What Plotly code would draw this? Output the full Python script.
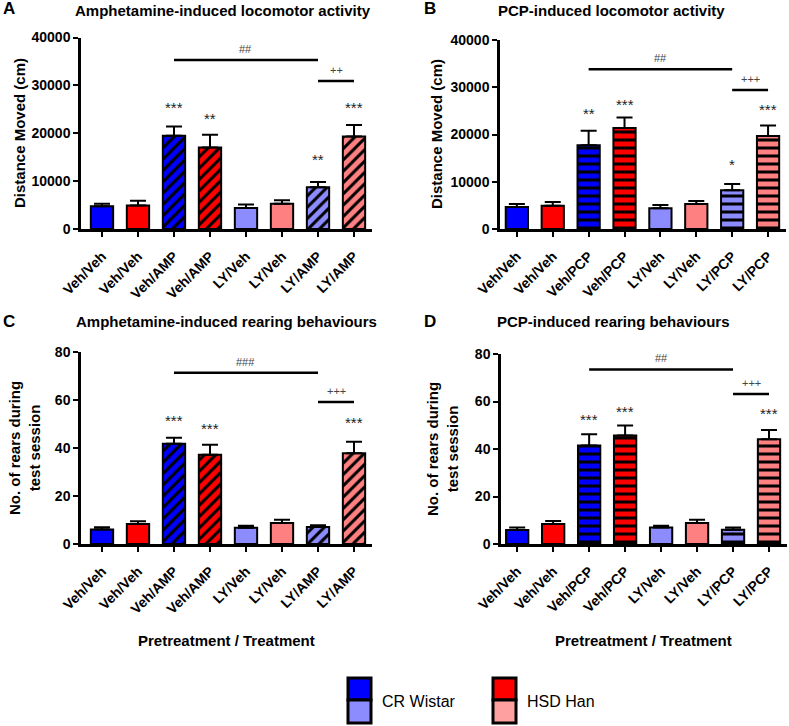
import plotly.graph_objects as go

W, H = 789, 726

labels_amp = ["Veh/Veh", "Veh/Veh", "Veh/AMP", "Veh/AMP", "LY/Veh", "LY/Veh", "LY/AMP", "LY/AMP"]
labels_pcp = ["Veh/Veh", "Veh/Veh", "Veh/PCP", "Veh/PCP", "LY/Veh", "LY/Veh", "LY/PCP", "LY/PCP"]

bar_colors = ["#0000FF", "#FF0000", "#0000FF", "#FF0000", "#8C8CFF", "#FF8080", "#8C8CFF", "#FF8080"]
drug_given = [False, False, True, True, False, False, True, True]

# A: amphetamine locomotor (cm)
loco_amp = [4750, 4900, 19500, 17000, 4400, 5300, 8700, 19300]
loco_amp_sem = [550, 1000, 1900, 2700, 700, 700, 1100, 2400]
# B: PCP locomotor (cm)
loco_pcp = [4650, 4900, 17700, 21400, 4400, 5300, 8200, 19700]
loco_pcp_sem = [650, 800, 3100, 2200, 700, 600, 1300, 2200]
# C: amphetamine rearing
rear_amp = [6.0, 8.3, 41.8, 37.2, 6.8, 8.7, 7.1, 37.8]
rear_amp_sem = [1.0, 1.2, 2.5, 4.2, 0.8, 1.4, 0.7, 4.8]
# D: PCP rearing
rear_pcp = [5.9, 8.4, 41.5, 45.7, 6.9, 8.8, 6.0, 44.1]
rear_pcp_sem = [1.1, 1.3, 4.7, 4.2, 0.8, 1.4, 1.0, 3.9]

# significance stars: (bar index, text, y)
stars_a = [(2, "***", 25300), (3, "**", 23000), (6, "**", 14500), (7, "***", 25300)]
stars_b = [(2, "**", 24400), (3, "***", 26300), (6, "*", 13600), (7, "***", 25200)]
stars_c = [(2, "***", 51.3), (3, "***", 48.0), (7, "***", 50.6)]
stars_d = [(2, "***", 52.5), (3, "***", 55.7), (7, "***", 54.8)]

# comparison brackets: (from bar, to bar, y, text)
brackets_a = [(2, 6, 35300, "##"), (6, 7, 30900, "++")]
brackets_b = [(2, 6, 33800, "##"), (6, 7, 29400, "+++")]
brackets_c = [(2, 6, 71.4, "###"), (6, 7, 59.2, "+++")]
brackets_d = [(2, 6, 73.5, "##"), (6, 7, 63.2, "+++")]


def px(x):
    return x / W


def py(y):
    return 1 - y / H


FONT = "Arial, Liberation Sans, sans-serif"

panels = [
    dict(vals=loco_amp, sem=loco_amp_sem, labels=labels_amp, hatch="/", stars=stars_a, brackets=brackets_a,
         xdom=(81, 372), ydom=(37.5, 229), xr=(-0.583, 7.5), yr=(0, 40000), dtick=10000),
    dict(vals=loco_pcp, sem=loco_pcp_sem, labels=labels_pcp, hatch="-", stars=stars_b, brackets=brackets_b,
         xdom=(500, 786), ydom=(40, 229), xr=(-0.47, 7.5), yr=(0, 40000), dtick=10000),
    dict(vals=rear_amp, sem=rear_amp_sem, labels=labels_amp, hatch="/", stars=stars_c, brackets=brackets_c,
         xdom=(81, 372), ydom=(352, 544), xr=(-0.583, 7.5), yr=(0, 80), dtick=20),
    dict(vals=rear_pcp, sem=rear_pcp_sem, labels=labels_pcp, hatch="-", stars=stars_d, brackets=brackets_d,
         xdom=(501, 787), ydom=(354, 544), xr=(-0.45, 7.5), yr=(0, 80), dtick=20),
]

fig = go.Figure()
annotations = []
shapes = []


def label(x, y, text, size, bold=True, color="black", angle=0, xanchor="center"):
    annotations.append(dict(x=px(x), y=py(y), xref="paper", yref="paper", text=text, showarrow=False,
                            xanchor=xanchor, yanchor="middle", textangle=angle,
                            font=dict(family=FONT, size=size, color=color,
                                      weight="bold" if bold else "normal")))


for i, p in enumerate(panels, start=1):
    xa = "x" if i == 1 else f"x{i}"
    ya = "y" if i == 1 else f"y{i}"
    xs = list(range(len(p["vals"])))
    # one trace per bar: per-point marker colours would override the black hatch colour
    for j in xs:
        fig.add_trace(go.Bar(
            x=[j], y=[p["vals"][j]], xaxis=xa, yaxis=ya, width=0.62,
            marker=dict(
                color=bar_colors[j],
                line=dict(color="black", width=2),
                pattern=dict(shape=p["hatch"] if drug_given[j] else "",
                             fillmode="replace", fgcolor="black", fgopacity=1, bgcolor=bar_colors[j],
                             size=8, solidity=0.38),
            ),
            error_y=dict(type="data", array=[p["sem"][j]], arrayminus=[0], symmetric=False,
                         color="black", thickness=2, width=8),
            showlegend=False, hoverinfo="skip",
        ))
    axis_common = dict(showline=True, linecolor="black", linewidth=2.5, ticks="outside", ticklen=5,
                       tickwidth=2, tickcolor="black", showgrid=False, zeroline=False, automargin=False,
                       tickfont=dict(family=FONT, size=14, color="black", weight="bold"))
    fig.update_layout({
        f"xaxis{'' if i == 1 else i}": dict(
            domain=[px(p["xdom"][0]), px(p["xdom"][1])], range=list(p["xr"]), anchor=ya,
            tickvals=xs, ticktext=p["labels"], tickangle=-45, ticklabelstandoff=6, **axis_common),
        f"yaxis{'' if i == 1 else i}": dict(
            domain=[py(p["ydom"][1]), py(p["ydom"][0])], range=list(p["yr"]), anchor=xa,
            dtick=p["dtick"], tickformat="d", **axis_common),
    })
    for idx, txt, yv in p["stars"]:
        annotations.append(dict(x=idx, y=yv, xref=xa, yref=ya, text=txt, showarrow=False,
                                xanchor="center", yanchor="middle",
                                font=dict(family=FONT, size=15, color="#222")))
    for x0, x1, yv, txt in p["brackets"]:
        shapes.append(dict(type="line", xref=xa, yref=ya, x0=x0, x1=x1, y0=yv, y1=yv,
                           line=dict(color="black", width=2.5)))
        annotations.append(dict(x=(x0 + x1) / 2, y=yv, xref=xa, yref=ya, text=txt, showarrow=False,
                                xanchor="center", yanchor="bottom", yshift=3,
                                font=dict(family=FONT, size=11, color="#444")))

# panel letters and titles
for letter, lx, ly in [("A", 9, 9), ("B", 430, 9), ("C", 9, 322), ("D", 430, 322)]:
    label(lx, ly, letter, 17)
for title, tx, ty in [("Amphetamine-induced locomotor activity", 223, 10),
                      ("PCP-induced locomotor activity", 611, 10),
                      ("Amphetamine-induced rearing behaviours", 226, 322),
                      ("PCP-induced rearing behaviours", 613, 322)]:
    label(tx, ty, title, 15)

# axis titles
for text, tx, ty in [("Distance Moved (cm)", 19, 133), ("Distance Moved (cm)", 437, 134),
                     ("No. of rears during<br>test session", 24, 448),
                     ("No. of rears during<br>test session", 442, 449)]:
    label(tx, ty, text, 15, angle=-90)
for tx in [227, 643]:
    label(tx, 640, "Pretreatment / Treatment", 15)

# legend swatches
for x0, top, bottom, name in [(348, "#0000FF", "#8C8CFF", "CR Wistar"), (493, "#FF0000", "#FFA0A0", "HSD Han")]:
    x1 = x0 + 23
    shapes.append(dict(type="rect", xref="paper", yref="paper", x0=px(x0), x1=px(x1), y0=py(700), y1=py(678),
                       fillcolor=top, line=dict(color="black", width=3)))
    shapes.append(dict(type="rect", xref="paper", yref="paper", x0=px(x0), x1=px(x1), y0=py(723), y1=py(700),
                       fillcolor=bottom, line=dict(color="black", width=3)))
    label(x1 + 9, 701, name, 16, bold=False, xanchor="left")

fig.update_layout(
    template="none",
    barmode="overlay",
    width=W, height=H,
    margin=dict(l=0, r=0, t=0, b=0, autoexpand=False),
    plot_bgcolor="white", paper_bgcolor="white",
    font=dict(family=FONT, color="black"),
    annotations=annotations, shapes=shapes,
)

# page has a default 8px body margin; drop it so the figure sits at the window origin
fig.write_html("out.html", config={"displayModeBar": False},
               post_script="document.body.style.margin='0px';")
